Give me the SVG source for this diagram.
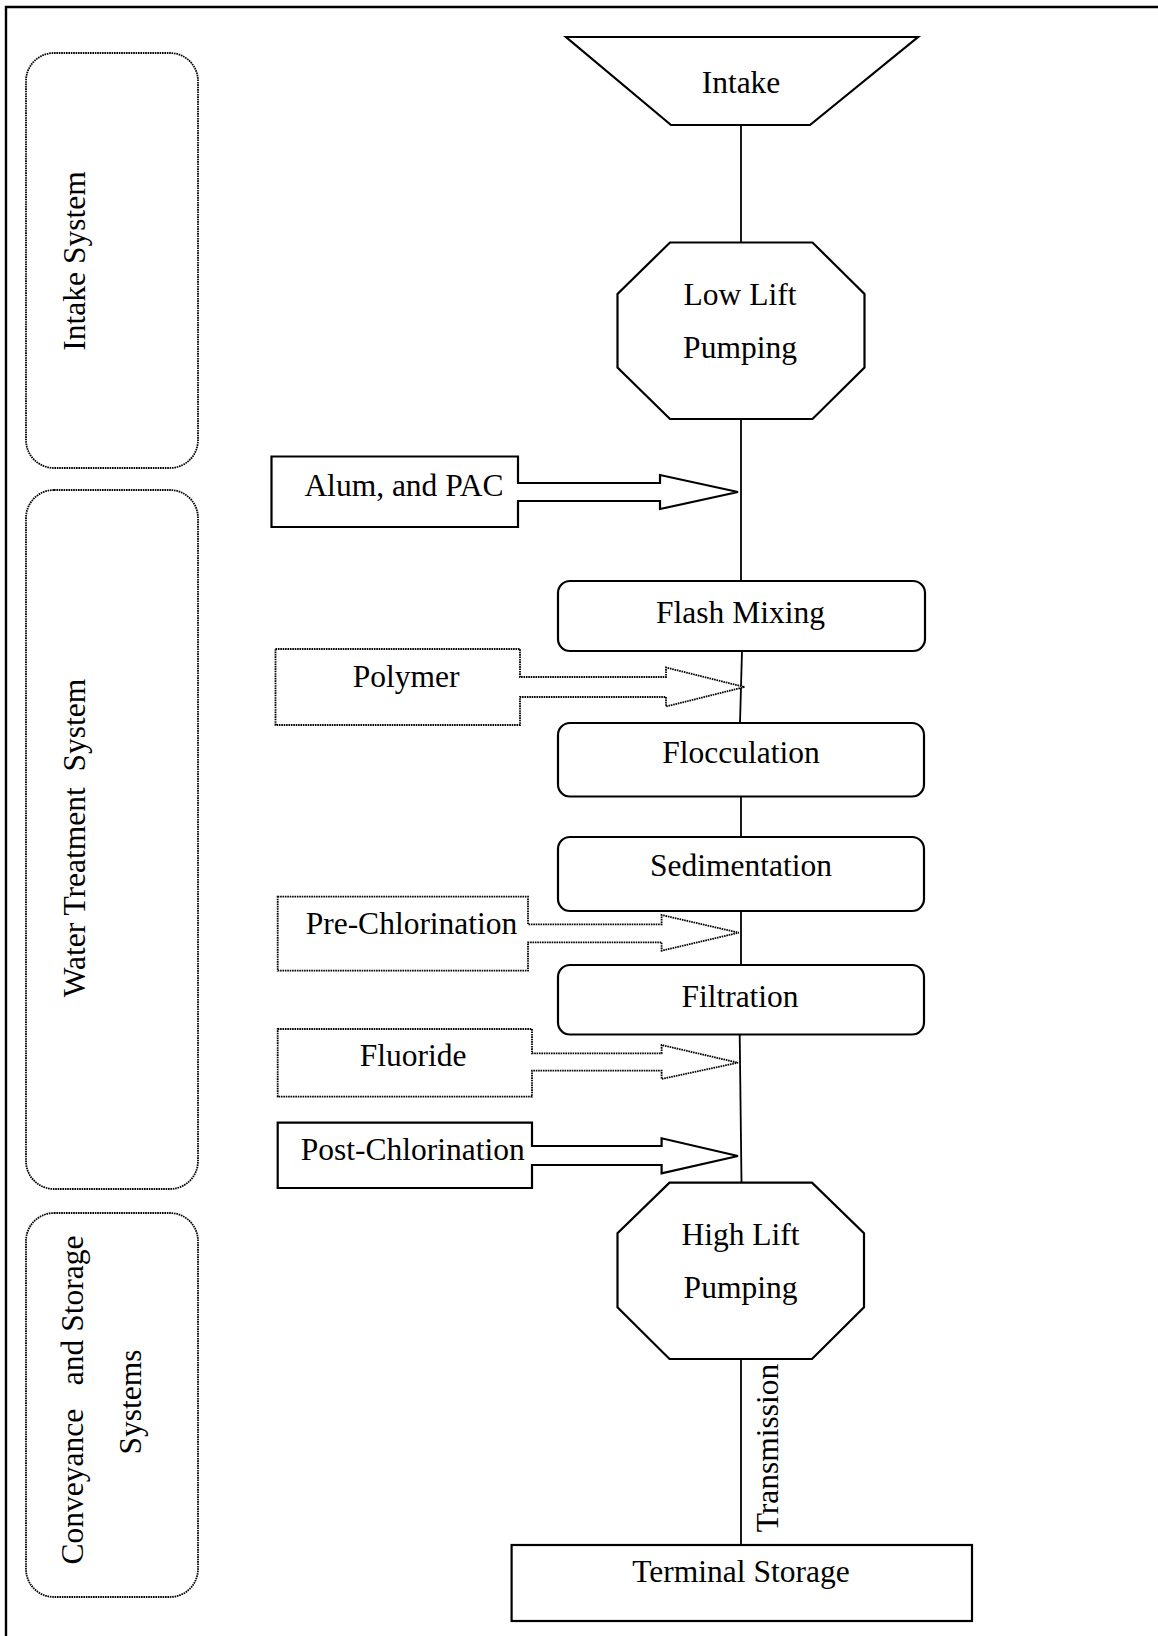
<svg xmlns="http://www.w3.org/2000/svg" width="1158" height="1636" viewBox="0 0 1158 1636">
  <style>
    text { font-family: "Liberation Serif", "Times New Roman", serif; font-size: 31.5px; fill: #000; }
    .c { text-anchor: middle; }
    .solid { fill: #fff; stroke: #000; stroke-width: 2.2; stroke-linejoin: miter; }
    .dotted { fill: #fff; stroke: #000; stroke-width: 1.8; stroke-dasharray: 1.6 0.8; }
    .zone { fill: none; stroke: #000; stroke-width: 1.8; stroke-dasharray: 1.6 0.8; }
    .pipe { fill: none; stroke: #000; stroke-width: 1.8; }
    .frame { fill: none; stroke: #000; stroke-width: 2.4; }
  </style>

  <rect width="1158" height="1636" fill="#fff"/>

  <!-- page frame (top and left edges) -->
  <path class="frame" d="M6,1636 V7 H1158"/>

  <!-- system zones on the left -->
  <g id="zone-intake">
    <rect class="zone" x="26" y="53" width="172" height="415" rx="28" ry="28"/>
    <text class="c" transform="translate(84.5,261) rotate(-90)">Intake System</text>
  </g>
  <g id="zone-treatment">
    <rect class="zone" x="26" y="490" width="172" height="699" rx="28" ry="28"/>
    <text class="c" xml:space="preserve" transform="translate(84.5,838) rotate(-90)">Water Treatment  System</text>
  </g>
  <g id="zone-conveyance">
    <rect class="zone" x="26" y="1213" width="172" height="384" rx="28" ry="28"/>
    <text class="c" xml:space="preserve" transform="translate(83,1400) rotate(-90)">Conveyance   and Storage</text>
    <text class="c" transform="translate(141,1402) rotate(-90)">Systems</text>
  </g>

  <!-- process line -->
  <g id="connectors">
    <line class="pipe" x1="741" y1="125" x2="741" y2="242.5"/>
    <line class="pipe" x1="741" y1="419" x2="741" y2="581"/>
    <line class="pipe" x1="742" y1="651" x2="740" y2="723"/>
    <line class="pipe" x1="741" y1="796.5" x2="741" y2="837"/>
    <line class="pipe" x1="741" y1="911" x2="741" y2="965"/>
    <line class="pipe" x1="739.7" y1="1034.5" x2="741.5" y2="1182.7"/>
    <line class="pipe" x1="741" y1="1359" x2="741" y2="1545"/>
    <text class="c" transform="translate(778,1448) rotate(-90)">Transmission</text>
  </g>

  <g id="intake">
    <polygon class="solid" points="566,37 918,37 810,125 671,125"/>
    <text class="c" x="741" y="93">Intake</text>
  </g>

  <g id="low-lift-pumping">
    <polygon class="solid" points="670,242.5 812.5,242.5 864.5,294 864.5,367.5 812.5,419 670,419 617.5,367.5 617.5,294"/>
    <text class="c" x="740" y="305">Low Lift</text>
    <text class="c" x="740" y="358">Pumping</text>
  </g>

  <g id="alum-pac">
    <path class="solid" d="M271.5,456.5 H518 V483 H660 V475 L738,492 L660,509 V501 H518 V527 H271.5 Z"/>
    <text class="c" x="404" y="496">Alum, and PAC</text>
  </g>

  <g id="flash-mixing">
    <rect class="solid" x="558" y="581" width="367" height="70" rx="12" ry="12"/>
    <text class="c" x="740.5" y="623">Flash Mixing</text>
  </g>

  <g id="polymer">
    <path class="dotted" d="M275.5,649 H520 V677 H666 V667.5 L744.5,687 L666,706.5 V697 H520 V725 H275.5 Z"/>
    <text class="c" x="406" y="687">Polymer</text>
  </g>

  <g id="flocculation">
    <rect class="solid" x="558" y="723" width="366" height="73.5" rx="12" ry="12"/>
    <text class="c" x="741" y="763">Flocculation</text>
  </g>

  <g id="sedimentation">
    <rect class="solid" x="558" y="837" width="366" height="74" rx="12" ry="12"/>
    <text class="c" x="741" y="876">Sedimentation</text>
  </g>

  <g id="pre-chlorination">
    <path class="dotted" d="M277.7,896.7 H528 V924.3 H661.6 V915 L738.8,932.7 L661.6,950.7 V942.3 H528 V970.7 H277.7 Z"/>
    <text class="c" x="411.5" y="934">Pre-Chlorination</text>
  </g>

  <g id="filtration">
    <rect class="solid" x="558" y="965" width="366" height="69.5" rx="12" ry="12"/>
    <text class="c" x="740" y="1006.5">Filtration</text>
  </g>

  <g id="fluoride">
    <path class="dotted" d="M277.7,1029 H532 V1053.3 H661.6 V1045 L738,1062.7 L661.6,1079 V1070.7 H532 V1096.7 H277.7 Z"/>
    <text class="c" x="413" y="1066">Fluoride</text>
  </g>

  <g id="post-chlorination">
    <path class="solid" d="M277.7,1122.7 H532 V1146 H661.6 V1138.3 L738,1156 L661.6,1173.3 V1165 H532 V1188 H277.7 Z"/>
    <text class="c" x="412.8" y="1160">Post-Chlorination</text>
  </g>

  <g id="high-lift-pumping">
    <polygon class="solid" points="669.5,1182.7 812,1182.7 864,1233.3 864,1307.3 812,1359 669.5,1359 617.5,1307.3 617.5,1233.3"/>
    <text class="c" x="740.5" y="1245">High Lift</text>
    <text class="c" x="740.5" y="1298">Pumping</text>
  </g>

  <g id="terminal-storage">
    <rect class="solid" x="511.6" y="1545" width="460.4" height="76"/>
    <text class="c" x="741" y="1582">Terminal Storage</text>
  </g>
</svg>
